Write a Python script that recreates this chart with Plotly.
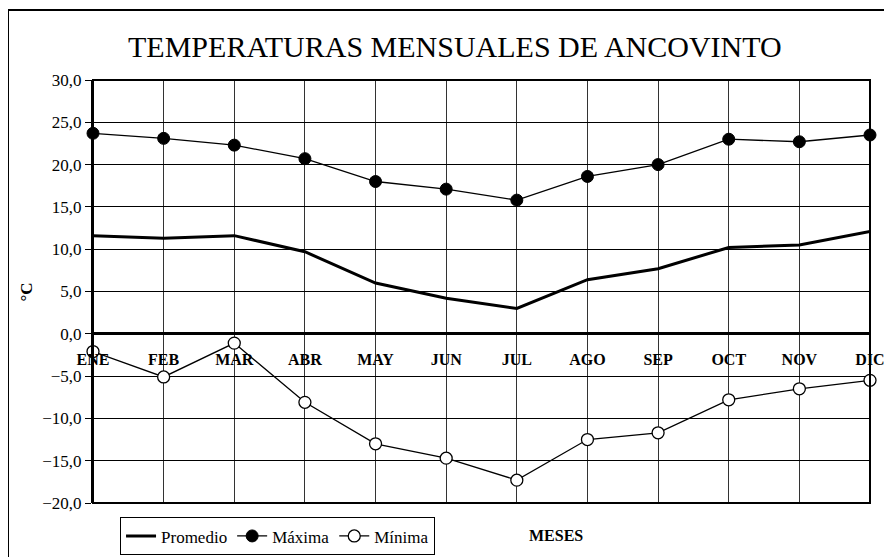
import plotly.graph_objects as go

meses = ["ENE", "FEB", "MAR", "ABR", "MAY", "JUN", "JUL", "AGO", "SEP", "OCT", "NOV", "DIC"]
promedio = [11.6, 11.3, 11.6, 9.7, 6.0, 4.2, 3.0, 6.4, 7.7, 10.2, 10.5, 12.1]
maxima = [23.7, 23.1, 22.3, 20.7, 18.0, 17.1, 15.8, 18.6, 20.0, 23.0, 22.7, 23.5]
minima = [-2.1, -5.1, -1.1, -8.1, -13.0, -14.7, -17.3, -12.5, -11.7, -7.8, -6.5, -5.5]

SERIF = "Liberation Serif"

fig = go.Figure()
fig.add_trace(go.Scatter(
    x=meses, y=promedio, name="Promedio", mode="lines",
    line=dict(color="black", width=3), cliponaxis=False,
))
fig.add_trace(go.Scatter(
    x=meses, y=maxima, name="Máxima", mode="lines+markers",
    line=dict(color="black", width=1.3),
    marker=dict(size=12, color="black", line=dict(color="black", width=1)),
    cliponaxis=False,
))
fig.add_trace(go.Scatter(
    x=meses, y=minima, name="Mínima", mode="lines+markers",
    line=dict(color="black", width=1.3),
    marker=dict(size=12, color="white", line=dict(color="black", width=1.3)),
    cliponaxis=False,
))

# la pagina html deja 8 px de margen en el body: todo va 8 px mas arriba/izquierda
fig.update_layout(
    width=892,
    height=557,
    margin=dict(l=85, r=30, t=72, b=62, autoexpand=False),
    paper_bgcolor="white",
    plot_bgcolor="white",
    separators=",.",
    font=dict(family=SERIF, color="black", size=17),
    title=dict(
        text="TEMPERATURAS MENSUALES DE ANCOVINTO",
        x=0.501, xanchor="center", y=0.93, yanchor="middle",
        font=dict(family=SERIF, size=30, color="black"),
    ),
    showlegend=True,
    legend=dict(
        orientation="h", xref="container", yref="container",
        x=0.1256, y=0.0855, xanchor="left", yanchor="top",
        bordercolor="black", borderwidth=1, bgcolor="white",
        font=dict(family=SERIF, size=17),
        itemwidth=30,
    ),
    xaxis=dict(
        type="category",
        range=[0, 11],
        anchor="free",
        position=0.4,
        automargin=False,
        showline=False,
        showgrid=True,
        gridcolor="#333",
        gridwidth=1,
        ticks="",
        ticklabelstandoff=14,
        tickfont=dict(family=SERIF, size=16, weight="bold"),
    ),
    yaxis=dict(
        range=[-20, 30],
        dtick=5,
        tickformat=".1f",
        automargin=False,
        showgrid=True,
        gridcolor="black",
        gridwidth=1,
        zeroline=True,
        zerolinecolor="black",
        zerolinewidth=3,
        showline=True,
        linecolor="black",
        linewidth=2,
        ticks="outside",
        ticklen=6,
        tickcolor="black",
        tickfont=dict(family=SERIF, size=17),
    ),
    shapes=[
        # marco del area de trazado
        dict(type="rect", xref="paper", yref="paper", x0=0, x1=1, y0=0, y1=1,
             line=dict(color="black", width=2), layer="above"),
        # marco exterior del grafico
        dict(type="rect", xref="paper", yref="paper",
             x0=-0.1094, x1=1.05, y0=-0.16, y1=1.1655,
             line=dict(color="black", width=2), layer="above"),
    ],
    annotations=[
        dict(text="°C", xref="paper", yref="paper", x=-0.085, y=0.5,
             xanchor="center", yanchor="middle",
             textangle=-90, showarrow=False,
             font=dict(family=SERIF, size=17, weight="bold")),
        dict(text="MESES", xref="paper", yref="paper", x=0.5955, y=-0.0773,
             xanchor="center", yanchor="middle",
             showarrow=False,
             font=dict(family=SERIF, size=16, weight="bold")),
    ],
)

fig.write_html("out.html")
